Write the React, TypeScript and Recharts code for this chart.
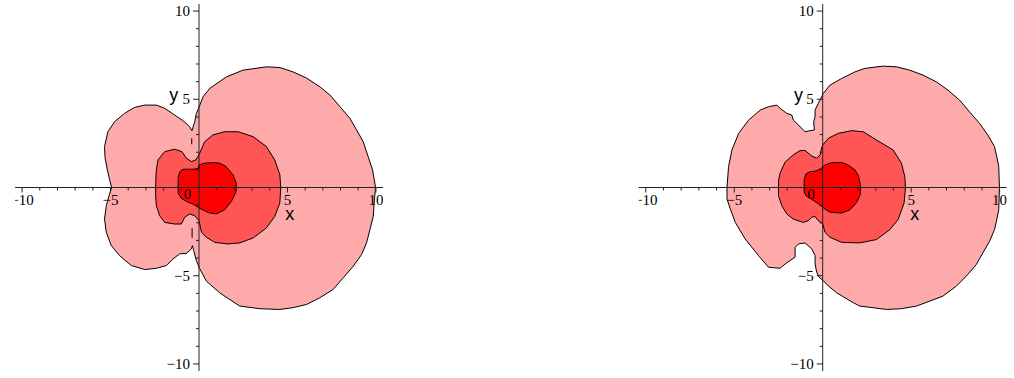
import { ComposedChart, XAxis, YAxis, Area, Line, Scatter, ReferenceLine, ReferenceDot } from "recharts";

type Pt = [number, number];

// contour regions, left plot
const LEFT_OUTER: Pt[] = [
	[-4.94, 0], [-5.05, 0.43], [-5.18, 1.0], [-5.31, 1.68], [-5.34, 2.32], [-5.15, 3.16], [-4.77, 3.73],
	[-4.21, 4.2], [-3.64, 4.54], [-3.07, 4.67], [-2.41, 4.67], [-1.94, 4.49], [-1.38, 4.11], [-0.91, 3.79],
	[-0.53, 3.45], [-0.4, 3.22], [-0.24, 3.73], [-0.15, 4.2], [-0.02, 4.5], [0.23, 5.14], [0.61, 5.62],
	[1.55, 6.27], [2.49, 6.65], [3.81, 6.84], [4.57, 6.8], [5.32, 6.55], [6.08, 6.2], [6.83, 5.71],
	[7.4, 5.24], [7.97, 4.58], [8.53, 3.92], [8.91, 3.26], [9.28, 2.6], [9.56, 1.75], [9.81, 1.0],
	[9.98, 0], [9.9, -0.88], [9.85, -1.64], [9.66, -2.39], [9.47, -3.14], [9.19, -3.8], [8.72, -4.46],
	[8.15, -5.12], [7.58, -5.78], [6.83, -6.25], [6.08, -6.63], [5.32, -6.81], [4.57, -6.91], [3.44, -6.87],
	[2.3, -6.72], [1.17, -5.97], [0.42, -5.31], [0.04, -4.6], [-0.15, -4.14],
	[-0.3, -3.58], [-0.37, -3.29], [-0.43, -3.48], [-0.71, -3.73], [-1.09, -3.76], [-1.47, -4.05],
	[-1.84, -4.42], [-2.41, -4.58], [-3.07, -4.65], [-3.83, -4.42], [-4.49, -3.86], [-4.96, -3.29],
	[-5.24, -2.54], [-5.34, -1.79], [-5.24, -1.03], [-5.08, -0.45], [-4.94, 0],
];
const LEFT_MIDDLE: Pt[] = [
	[-2.45, 0], [-2.43, 0.72], [-2.41, 1.0], [-2.32, 1.56], [-1.94, 2.03], [-1.38, 2.17], [-0.96, 2.03],
	[-0.71, 1.66], [-0.43, 1.47], [-0.19, 1.56], [0, 1.85], [0.32, 2.6], [0.79, 2.98], [1.45, 3.16],
	[2.21, 3.16], [3.06, 2.88], [3.81, 2.32], [4.28, 1.56], [4.57, 0.72], [4.62, 0], [4.57, -0.88],
	[4.28, -1.64], [3.81, -2.29], [3.06, -2.86], [2.3, -3.14], [1.64, -3.2], [0.89, -3.11], [0.42, -2.82],
	[0.14, -2.54], [0, -1.88], [-0.24, -1.6], [-0.53, -1.5], [-0.81, -1.69], [-1.0, -2.07], [-1.38, -2.07],
	[-1.94, -1.98], [-2.22, -1.6], [-2.41, -1.03], [-2.45, -0.5], [-2.45, 0],
];
const LEFT_INNER: Pt[] = [
	[-1.18, 0], [-1.18, 0.55], [-1.09, 0.89], [-0.91, 1.03], [-0.24, 1.04], [-0.02, 1.1], [0, 1.28],
	[0.32, 1.38], [0.83, 1.41], [1.17, 1.38], [1.51, 1.2], [1.92, 0.72], [2.1, 0.25], [2.1, -0.23],
	[1.83, -0.79], [1.45, -1.26], [0.98, -1.5], [0.55, -1.43], [0.08, -1.2], [-0.3, -0.96], [-0.7, -0.8],
	[-1.02, -0.6], [-1.18, -0.3], [-1.18, 0],
];
const LEFT_DASH_TOP: Pt[] = [[-0.41, 2.79], [-0.41, 2.45]];
const LEFT_DASH_BOTTOM: Pt[] = [[-0.39, -2.3], [-0.39, -2.85]];

// contour regions, right plot
const RIGHT_OUTER: Pt[] = [
	[-5.41, 0], [-5.32, 1.19], [-5.13, 2.13], [-4.75, 3.07], [-4.19, 3.82], [-3.53, 4.39], [-3.06, 4.58],
	[-2.59, 4.67], [-2.41, 4.49], [-2.03, 4.2], [-1.75, 4.11], [-1.66, 3.82], [-1.37, 3.54], [-1.0, 3.16],
	[-0.72, 3.22], [-0.47, 3.26], [-0.51, 3.73], [-0.43, 4.01], [-0.43, 4.39], [-0.25, 4.77], [-0.1, 5.05],
	[0.03, 5.33], [0.41, 5.8], [1.07, 6.18], [1.82, 6.55], [2.38, 6.75], [3.41, 6.88], [4.17, 6.84],
	[4.92, 6.65], [5.67, 6.37], [6.42, 5.99], [7.08, 5.52], [7.74, 4.95], [8.3, 4.29], [8.86, 3.64],
	[9.33, 2.98], [9.71, 2.32], [9.84, 1.75], [9.95, 1.19], [9.99, 0], [9.95, -1.26], [9.84, -1.82],
	[9.71, -2.39], [9.43, -3.05], [9.05, -3.71], [8.68, -4.37], [8.11, -5.03], [7.55, -5.59], [6.79, -6.16],
	[6.05, -6.44], [5.3, -6.72], [4.45, -6.87], [3.61, -6.91], [2.1, -6.72],
	[1.73, -6.53], [0.79, -5.97], [0.23, -5.5], [0.03, -5.27], [-0.21, -5.08], [-0.34, -4.8], [-0.43, -4.33],
	[-0.43, -3.86], [-0.62, -3.48], [-1.0, -3.14], [-1.37, -3.2], [-1.56, -3.39], [-1.56, -3.95],
	[-1.84, -4.14], [-2.12, -4.33], [-2.41, -4.58], [-3.06, -4.52], [-3.63, -3.86], [-4.38, -2.92],
	[-4.94, -1.98], [-5.22, -1.22], [-5.41, -0.66], [-5.41, 0],
];
const RIGHT_MIDDLE: Pt[] = [
	[-2.5, 0], [-2.49, 0.44], [-2.41, 0.81], [-2.12, 1.45], [-1.66, 1.85], [-1.28, 2.09], [-1.0, 2.1],
	[-0.62, 1.79], [-0.34, 1.66], [-0.15, 1.85], [-0.06, 2.24], [0, 2.41], [0.32, 2.79], [0.88, 3.07],
	[1.63, 3.22], [2.29, 3.16], [3.04, 2.69], [3.98, 2.13], [4.45, 1.38], [4.64, 0.62], [4.68, 0],
	[4.6, -0.88], [4.26, -1.82], [3.79, -2.39], [3.04, -2.95], [2.1, -3.14], [1.07, -3.11], [0.41, -2.82],
	[0.13, -2.54], [0, -2.07], [-0.25, -1.88], [-0.43, -1.64], [-0.62, -1.69], [-0.81, -1.88], [-1.09, -1.98],
	[-1.66, -1.79], [-2.03, -1.5], [-2.31, -1.03], [-2.5, -0.47], [-2.5, 0],
];
const RIGHT_INNER: Pt[] = [
	[-1.05, 0], [-1.05, 0.44], [-0.94, 0.77], [-0.72, 0.9], [-0.38, 0.93], [-0.1, 1.08], [0.13, 1.28],
	[0.51, 1.41], [1.07, 1.42], [1.43, 1.28], [1.82, 1.0], [2.02, 0.66], [2.13, 0.15], [2.13, -0.38],
	[1.92, -0.85], [1.54, -1.26], [1.07, -1.45], [0.41, -1.4], [0.07, -1.18], [-0.25, -0.92], [-0.62, -0.67],
	[-0.94, -0.47], [-1.05, -0.24], [-1.05, 0],
];

const TICKS = [-10, -9, -8, -7, -6, -5, -4, -3, -2, -1, 1, 2, 3, 4, 5, 6, 7, 8, 9, 10];
const MAJOR = [-10, -5, 5, 10];
const MAJOR_TEXT = ["\u221210", "\u22125", "5", "10"];

const DOMAIN: [number, number] = [-10.4, 10.4];
const SERIF = "'Liberation Serif', 'DejaVu Serif', serif";
const SANS = "'Liberation Sans', Arial, sans-serif";

const pts = (a: Pt[]) => a.map(([x, y]) => ({ x, y }));
const xTickData = TICKS.map((t) => ({ x: t, y: 0 }));
const yTickData = TICKS.map((t) => ({ x: 0, y: t }));
const xLabelData = MAJOR.map((t, i) => ({ x: t, y: 0, text: MAJOR_TEXT[i] }));
const yLabelData = MAJOR.map((t, i) => ({ x: 0, y: t, text: MAJOR_TEXT[i] }));

const XTick = ({ cx, cy, payload }: any) => (
	<line x1={cx} y1={cy} x2={cx} y2={cy + (MAJOR.includes(payload.x) ? 5 : 3)} stroke='#222' />
);
const YTick = ({ cx, cy, payload }: any) => (
	<line x1={cx} y1={cy} x2={cx - (MAJOR.includes(payload.y) ? 6 : 3)} y2={cy} stroke='#222' />
);
const XLabel = ({ cx, cy, payload }: any) => (
	<text x={cx} y={cy + 17} textAnchor='middle' fontFamily={SERIF} fontSize={15} fill='#000'>
		{payload.text}
	</text>
);
const YLabel = ({ cx, cy, payload }: any) => (
	<text x={cx - 9} y={cy + 5} textAnchor='end' fontFamily={SERIF} fontSize={15} fill='#000'>
		{payload.text}
	</text>
);

const Panel = ({ outer, middle, inner, dashes, xTitle, yTitle, marginLeft, marginRight, width }: any) => (
	<ComposedChart
		width={width}
		height={378}
		margin={{ top: 4, right: marginRight, bottom: 7, left: marginLeft }}>
		<XAxis type='number' dataKey='x' domain={DOMAIN} hide allowDataOverflow />
		<YAxis type='number' dataKey='y' domain={DOMAIN} hide allowDataOverflow />
		<Area data={pts(outer)} dataKey='y' baseValue={0} fill='#FFAAAA' fillOpacity={1} stroke='#000' strokeWidth={1} dot={false} activeDot={false} isAnimationActive={false} />
		<Area data={pts(middle)} dataKey='y' baseValue={0} fill='#FF5555' fillOpacity={1} stroke='#000' strokeWidth={1} dot={false} activeDot={false} isAnimationActive={false} />
		<Area data={pts(inner)} dataKey='y' baseValue={0} fill='#FF0000' fillOpacity={1} stroke='#000' strokeWidth={1} dot={false} activeDot={false} isAnimationActive={false} />
		{dashes.map((d: Pt[], i: number) => (
			<Line key={i} data={pts(d)} dataKey='y' stroke='#000' strokeWidth={1} dot={false} activeDot={false} isAnimationActive={false} />
		))}
		<ReferenceLine y={0} stroke='#222' strokeWidth={1} />
		<ReferenceLine x={0} stroke='#222' strokeWidth={1} />
		<Scatter data={xTickData} shape={XTick} isAnimationActive={false} />
		<Scatter data={yTickData} shape={YTick} isAnimationActive={false} />
		<Scatter data={xLabelData} shape={XLabel} isAnimationActive={false} />
		<Scatter data={yLabelData} shape={YLabel} isAnimationActive={false} />
		<ReferenceDot
			x={-0.6}
			y={-0.6}
			r={0}
			shape={(p: any) => (
				<text x={p.cx - 1} y={p.cy + 0.5} textAnchor='middle' fontFamily={SERIF} fontSize={15}>
					0
				</text>
			)}
		/>
		<ReferenceDot
			x={xTitle[0]}
			y={xTitle[1]}
			r={0}
			shape={(p: any) => (
				<text x={p.cx} y={p.cy + 1.5} textAnchor='middle' fontFamily={SANS} fontSize={18}>
					x
				</text>
			)}
		/>
		<ReferenceDot
			x={yTitle[0]}
			y={yTitle[1]}
			r={0}
			shape={(p: any) => (
				<text x={p.cx} y={p.cy} textAnchor='middle' fontFamily={SANS} fontSize={18}>
					y
				</text>
			)}
		/>
	</ComposedChart>
);

export default function App() {
	return (
		<div style={{ position: "absolute", left: 0, top: 0, width: 1014, height: 378, background: "#fff" }}>
			<div style={{ position: "absolute", left: 0, top: 0 }}>
				<Panel
					outer={LEFT_OUTER}
					middle={LEFT_MIDDLE}
					inner={LEFT_INNER}
					dashes={[LEFT_DASH_TOP, LEFT_DASH_BOTTOM]}
					xTitle={[5.13, -1.73]}
					yTitle={[-1.43, 4.9]}
					width={400}
					marginLeft={15}
					marginRight={17}
				/>
			</div>
			<div style={{ position: "absolute", left: 620, top: 0 }}>
				<Panel
					outer={RIGHT_OUTER}
					middle={RIGHT_MIDDLE}
					inner={RIGHT_INNER}
					dashes={[]}
					xTitle={[5.2, -1.73]}
					yTitle={[-1.37, 4.9]}
					width={394}
					marginLeft={18.7}
					marginRight={7.3}
				/>
			</div>
		</div>
	);
}
